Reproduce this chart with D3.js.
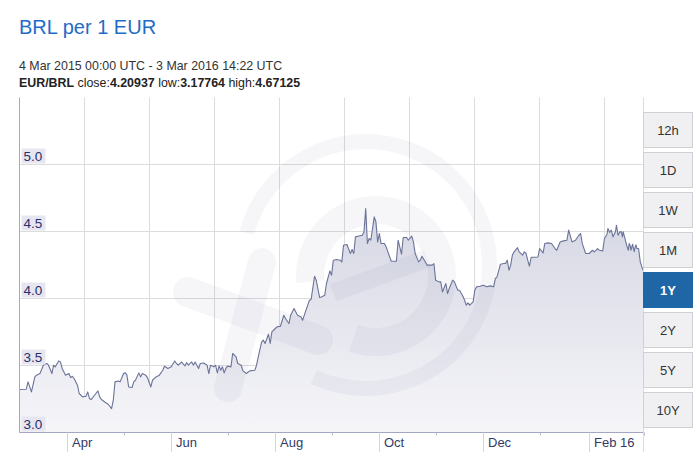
<!DOCTYPE html>
<html><head><meta charset="utf-8">
<script src="https://cdn.jsdelivr.net/npm/d3@7"></script>
<style>
html,body{margin:0;padding:0;background:#fff;}
svg{display:block;font-family:Arial,"Liberation Sans",sans-serif;}
</style></head><body>
<svg id="chart" width="699" height="457"></svg>
<script>
const title = "BRL per 1 EUR";
const period = "4 Mar 2015 00:00 UTC - 3 Mar 2016 14:22 UTC";
const pair = "EUR/BRL";
const statNames = ["close", "low", "high"];
const statValues = ["4.20937", "3.17764", "4.67125"];
const startDate = "2015-03-04T00:00Z";
const endDate = "2016-03-03T14:22Z";

const dates = [
"2015-03-04","2015-03-08","2015-03-09","2015-03-11","2015-03-13","2015-03-14","2015-03-16","2015-03-18","2015-03-20","2015-03-21",
"2015-03-23","2015-03-24","2015-03-25","2015-03-27","2015-03-28","2015-03-29","2015-03-31","2015-04-02","2015-04-03","2015-04-04",
"2015-04-05","2015-04-07","2015-04-08","2015-04-10","2015-04-12","2015-04-13","2015-04-14","2015-04-15","2015-04-17","2015-04-19",
"2015-04-20","2015-04-21","2015-04-23","2015-04-25","2015-04-27","2015-04-28","2015-04-29","2015-05-01","2015-05-02","2015-05-04",
"2015-05-05","2015-05-06","2015-05-07","2015-05-09","2015-05-10","2015-05-11","2015-05-13","2015-05-14","2015-05-15","2015-05-17",
"2015-05-18","2015-05-20","2015-05-21","2015-05-23","2015-05-25","2015-05-27","2015-05-28","2015-05-30","2015-06-01","2015-06-03",
"2015-06-04","2015-06-05","2015-06-07","2015-06-09","2015-06-10","2015-06-11","2015-06-13","2015-06-14","2015-06-15","2015-06-17",
"2015-06-18","2015-06-20","2015-06-22","2015-06-23","2015-06-24","2015-06-26","2015-06-27","2015-06-28","2015-06-29","2015-06-30",
"2015-07-01","2015-07-02","2015-07-03","2015-07-04","2015-07-06","2015-07-07","2015-07-09","2015-07-10","2015-07-12","2015-07-13",
"2015-07-15","2015-07-17","2015-07-20","2015-07-21","2015-07-22","2015-07-24","2015-07-25","2015-07-26","2015-07-28","2015-07-29",
"2015-07-30","2015-08-01","2015-08-02","2015-08-04","2015-08-06","2015-08-07","2015-08-09","2015-08-10","2015-08-12","2015-08-14",
"2015-08-16","2015-08-17","2015-08-19","2015-08-21","2015-08-22","2015-08-24","2015-08-25","2015-08-27","2015-08-28","2015-08-30",
"2015-08-31","2015-09-02","2015-09-03","2015-09-04","2015-09-06","2015-09-08","2015-09-09","2015-09-10","2015-09-12","2015-09-14",
"2015-09-15","2015-09-16","2015-09-17","2015-09-19","2015-09-21","2015-09-22","2015-09-23","2015-09-24","2015-09-25","2015-09-26",
"2015-09-28","2015-09-29","2015-09-30","2015-10-01","2015-10-02","2015-10-04","2015-10-05","2015-10-06","2015-10-08","2015-10-11",
"2015-10-12","2015-10-14","2015-10-15","2015-10-17","2015-10-18","2015-10-20","2015-10-21","2015-10-22","2015-10-24","2015-10-25",
"2015-10-26","2015-10-28","2015-10-29","2015-11-01","2015-11-02","2015-11-03","2015-11-05","2015-11-06","2015-11-07","2015-11-09",
"2015-11-10","2015-11-11","2015-11-13","2015-11-14","2015-11-16","2015-11-17","2015-11-19","2015-11-20","2015-11-21","2015-11-22",
"2015-11-23","2015-11-25","2015-11-26","2015-11-27","2015-11-29","2015-12-01","2015-12-03","2015-12-05","2015-12-07","2015-12-08",
"2015-12-09","2015-12-11","2015-12-13","2015-12-14","2015-12-15","2015-12-16","2015-12-17","2015-12-18","2015-12-19","2015-12-21",
"2015-12-22","2015-12-24","2015-12-25","2015-12-26","2015-12-27","2015-12-28","2015-12-29","2015-12-31","2016-01-02","2016-01-03",
"2016-01-05","2016-01-06","2016-01-08","2016-01-10","2016-01-12","2016-01-13","2016-01-15","2016-01-17","2016-01-19","2016-01-20",
"2016-01-22","2016-01-24","2016-01-26","2016-01-27","2016-01-28","2016-01-30","2016-02-01","2016-02-03","2016-02-04","2016-02-06",
"2016-02-07","2016-02-09","2016-02-10","2016-02-11T12:00Z","2016-02-12","2016-02-13","2016-02-14","2016-02-15","2016-02-16T12:00Z","2016-02-17",
"2016-02-18","2016-02-19","2016-02-20","2016-02-20T12:00Z","2016-02-21","2016-02-23","2016-02-24","2016-02-24T12:00Z","2016-02-25","2016-02-25T12:00Z",
"2016-02-26T12:00Z","2016-02-27","2016-02-27T12:00Z","2016-02-28","2016-02-28T12:00Z","2016-02-29","2016-03-01","2016-03-02","2016-03-03T14:22Z"
];
const values = [
3.321,3.323,3.378,3.303,3.415,3.428,3.440,3.502,3.515,3.502,
3.440,3.502,3.490,3.534,3.527,3.478,3.428,3.440,3.410,3.420,
3.403,3.353,3.291,3.266,3.271,3.303,3.254,3.246,3.278,3.310,
3.266,3.246,3.228,3.211,3.178,3.241,3.378,3.385,3.378,3.440,
3.445,3.428,3.340,3.336,3.378,3.390,3.445,3.415,3.440,3.428,
3.410,3.340,3.390,3.415,3.428,3.465,3.495,3.478,3.490,3.534,
3.515,3.502,3.525,3.497,3.522,3.502,3.527,3.502,3.527,3.478,
3.515,3.519,3.502,3.440,3.502,3.490,3.502,3.445,3.497,3.465,
3.490,3.445,3.478,3.495,3.490,3.590,3.564,3.515,3.502,3.460,
3.440,3.460,3.465,3.502,3.564,3.676,3.689,3.664,3.734,3.664,
3.751,3.776,3.788,3.793,3.875,3.851,3.813,3.875,3.925,3.875,
3.863,3.838,3.913,3.987,3.993,4.166,4.137,4.007,4.012,4.025,
4.112,4.206,4.174,4.286,4.291,4.286,4.273,4.398,4.403,4.336,
4.366,4.336,4.460,4.467,4.472,4.497,4.671,4.410,4.448,4.435,
4.609,4.572,4.422,4.485,4.410,4.410,4.385,4.348,4.278,4.278,
4.435,4.331,4.455,4.455,4.435,4.465,4.422,4.336,4.273,4.286,
4.316,4.273,4.249,4.249,4.261,4.137,4.124,4.124,4.049,4.112,
4.037,4.075,4.137,4.124,4.062,4.062,4.017,3.987,3.950,3.967,
3.950,3.975,4.062,4.087,4.092,4.099,4.087,4.094,4.087,4.149,
4.161,4.256,4.261,4.261,4.286,4.211,4.249,4.323,4.348,4.379,
4.348,4.323,4.348,4.338,4.286,4.241,4.308,4.308,4.310,4.373,
4.340,4.410,4.415,4.410,4.373,4.360,4.422,4.430,4.435,4.510,
4.422,4.435,4.472,4.485,4.410,4.336,4.336,4.360,4.348,4.373,
4.360,4.355,4.448,4.480,4.522,4.494,4.510,4.460,4.500,4.547,
4.472,4.497,4.497,4.460,4.497,4.398,4.360,4.410,4.398,4.360,
4.405,4.373,4.350,4.387,4.400,4.373,4.373,4.273,4.20937
];

const yTicks = [3.0, 3.5, 4.0, 4.5, 5.0];
const yTickLabels = ["3.0", "3.5", "4.0", "4.5", "5.0"];
const monthTicks = ["2015-04-01","2015-06-01","2015-08-01","2015-10-01","2015-12-01","2016-02-01"];
const monthLabels = ["Apr","Jun","Aug","Oct","Dec","Feb 16"];
const ranges = ["12h","1D","1W","1M","1Y","2Y","5Y","10Y"];
const activeRange = "1Y";

const parse = s => d3.isoParse(s.length === 10 ? s + "T00:00Z" : s);
const data = dates.map((d, i) => ({date: parse(d), v: values[i]}));

const L = 19.5, R = 643, T = 97.5, B = 432.5;
const x = d3.scaleUtc().domain([parse(startDate), parse(endDate)]).range([L, R]);
const y = d3.scaleLinear().domain([3.0, 5.5]).range([B, T]);

const svg = d3.select("#chart");
const defs = svg.append("defs");
const grad = defs.append("linearGradient").attr("id", "areaGrad")
  .attr("gradientUnits", "userSpaceOnUse").attr("x1", 0).attr("x2", 0).attr("y1", 200).attr("y2", B);
grad.append("stop").attr("offset", 0).attr("stop-color", "#d3d5e2");
grad.append("stop").attr("offset", 1).attr("stop-color", "#f6f6f9");
defs.append("clipPath").attr("id", "plotClip").append("rect")
  .attr("x", L).attr("y", T).attr("width", R - L).attr("height", B - T);

// header texts
svg.append("text").attr("x", 19).attr("y", 34).attr("font-size", 20)
  .attr("fill", "#1f6cc6").text(title);
svg.append("text").attr("x", 19).attr("y", 70).attr("font-size", 12.4)
  .attr("fill", "#333").text(period);
const st = svg.append("text").attr("x", 19).attr("y", 87).attr("font-size", 12.4).attr("fill", "#222");
st.append("tspan").attr("font-weight", "bold").text(pair);
statNames.forEach((n, i) => {
  st.append("tspan").text(" " + n + ":");
  st.append("tspan").attr("font-weight", "bold").text(statValues[i]);
});

// gridlines
const grid = svg.append("g");
grid.selectAll("line.h").data(yTicks).join("line")
  .attr("x1", L).attr("x2", R).attr("y1", d => y(d)).attr("y2", d => y(d))
  .attr("stroke", "#dcdcdc").attr("stroke-width", 1);
grid.selectAll("line.v").data(d3.range(L + 65, R, 65)).join("line")
  .attr("x1", d => d).attr("x2", d => d).attr("y1", T).attr("y2", B)
  .attr("stroke", "#dcdcdc").attr("stroke-width", 1);

// area
const plot = svg.append("g").attr("clip-path", "url(#plotClip)");
plot.append("path").datum(data)
  .attr("d", d3.area().x(d => x(d.date)).y0(B).y1(d => y(d.v)))
  .attr("fill", "url(#areaGrad)");

// watermark
const wm = plot.append("g").attr("fill", "rgba(40,40,110,0.045)").attr("stroke", "none");
wm.append("path").attr("transform", "translate(366,265)")
  .attr("d", d3.arc().innerRadius(116).outerRadius(131).startAngle(-75 * Math.PI / 180).endAngle(205 * Math.PI / 180)());
wm.append("path").attr("transform", "translate(376,276)")
  .attr("d", d3.arc().innerRadius(52).outerRadius(80).startAngle(-95 * Math.PI / 180).endAngle(200 * Math.PI / 180)());
wm.append("rect").attr("x", 330).attr("y", 268).attr("width", 100).attr("height", 18).attr("transform", "rotate(-20 376 276)");
const wmx = plot.append("g").attr("stroke", "rgba(40,40,110,0.045)").attr("stroke-linecap", "round");
wmx.append("line").attr("x1", 188).attr("y1", 292).attr("x2", 318).attr("y2", 340).attr("stroke-width", 30);
wmx.append("line").attr("x1", 262).attr("y1", 262).attr("x2", 228).attr("y2", 388).attr("stroke-width", 28);

// line
plot.append("path").datum(data)
  .attr("d", d3.line().x(d => x(d.date)).y(d => y(d.v)))
  .attr("fill", "none").attr("stroke", "#6b7398").attr("stroke-width", 1.1).attr("stroke-linejoin", "round");

// axes
svg.append("line").attr("x1", L).attr("x2", L).attr("y1", T).attr("y2", B).attr("stroke", "#a4a6c6");
svg.append("line").attr("x1", L).attr("x2", R).attr("y1", B).attr("y2", B).attr("stroke", "#a4a6c6");
svg.append("line").attr("x1", R + 0.5).attr("x2", R + 0.5).attr("y1", T).attr("y2", 452).attr("stroke", "#dcdcdc");

// y labels
const yl = svg.append("g").selectAll("g").data(yTicks).join("g")
  .attr("transform", d => `translate(0,${y(d)})`);
yl.append("rect").attr("x", 21.5).attr("y", -16).attr("width", 24).attr("height", 15).attr("fill", "#e6e6f0");
yl.append("text").attr("x", 23.5).attr("y", -3.5).attr("font-size", 13.5).attr("fill", "#2b2e6a")
  .text((d, i) => yTickLabels[i]);

// x ticks
const mt = svg.append("g").selectAll("g").data(monthTicks).join("g")
  .attr("transform", d => `translate(${Math.round(x(parse(d))) + 0.5},0)`);
mt.append("line").attr("y1", B).attr("y2", 452).attr("stroke", "#d4d5e2");
mt.append("text").attr("x", 4.5).attr("y", 447).attr("font-size", 13).attr("fill", "#333a66")
  .text((d, i) => monthLabels[i]);
svg.append("g").selectAll("line").data(d3.range(L + 104, R + 2, 104)).join("line")
  .attr("x1", d => Math.round(d) + 0.5).attr("x2", d => Math.round(d) + 0.5)
  .attr("y1", B).attr("y2", B + 3).attr("stroke", "#b8bad2");

// range buttons
const bt = svg.append("g").selectAll("g").data(ranges).join("g")
  .attr("transform", (d, i) => `translate(643.5,${112.5 + i * 40})`);
bt.append("rect").attr("width", 49).attr("height", 35)
  .attr("fill", d => d === activeRange ? "#1f66a6" : "#f0f0f2")
  .attr("stroke", d => d === activeRange ? "#1f66a6" : "#cfcfd4");
bt.append("text").attr("x", 24.5).attr("y", 22).attr("text-anchor", "middle").attr("font-size", 13)
  .attr("font-weight", d => d === activeRange ? "bold" : "normal")
  .attr("fill", d => d === activeRange ? "#fff" : "#333").text(d => d);
</script>
</body></html>
